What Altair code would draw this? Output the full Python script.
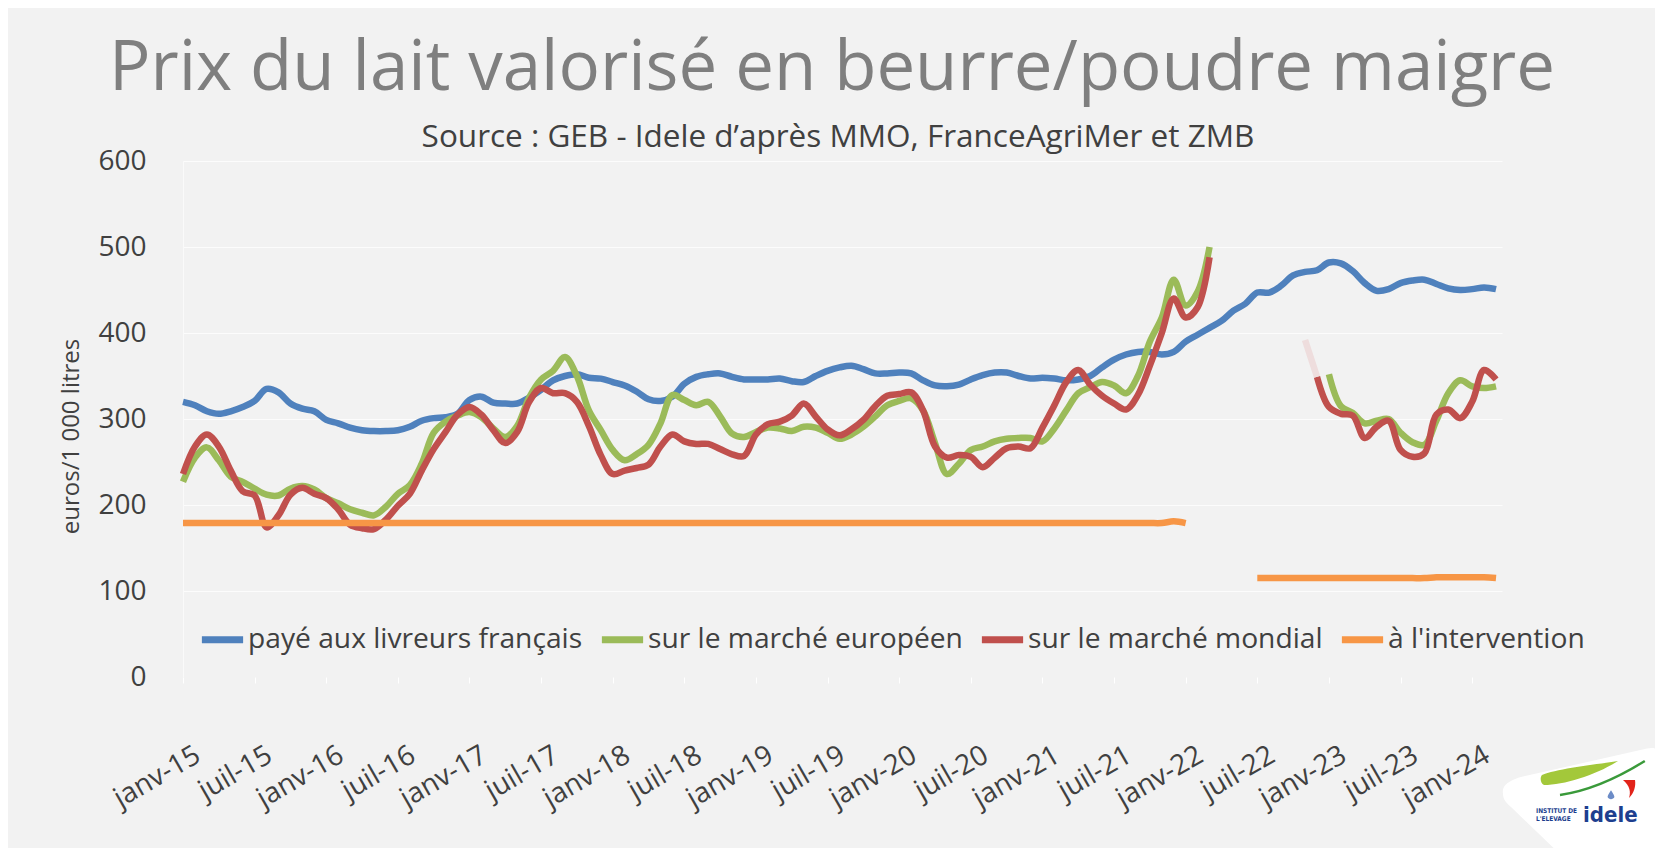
import altair as alt
import pandas as pd

FONT = "Open Sans"

title_text = "Prix du lait valorisé en beurre/poudre maigre"
subtitle_text = "Source : GEB - Idele d’après MMO, FranceAgriMer et ZMB"
y_title = "euros/1 000 litres"

series_names = [
    "payé aux livreurs français",
    "sur le marché européen",
    "sur le marché mondial",
    "\u00a0à l'intervention",
]
series_colors = ["#4F81BD", "#9BBB59", "#C0504D", "#F79646"]

x_labels = ["janv-15", "juil-15", "janv-16", "juil-16", "janv-17", "juil-17",
            "janv-18", "juil-18", "janv-19", "juil-19", "janv-20", "juil-20",
            "janv-21", "juil-21", "janv-22", "juil-22", "janv-23", "juil-23",
            "janv-24"]
x_tick_values = [0, 6, 12, 18, 24, 30, 36, 42, 48, 54, 60, 66, 72, 78, 84, 90, 96, 102, 108]
y_tick_values = [0, 100, 200, 300, 400, 500, 600]

# monthly values, index 0 = janv-15 ... 110 = mars-24
paye_fr = [320, 316, 309, 306, 309, 314, 321, 335, 331, 318,
           312, 309, 299, 295, 290, 287, 286, 286, 287, 291,
           298, 301, 302, 306, 322, 326, 319, 318, 318, 325,
           334, 345, 350, 352, 348, 347, 343, 339, 332, 323,
           321, 326, 341, 349, 352, 353, 349, 346, 346, 346,
           347, 344, 343, 350, 356, 360, 362, 358, 353, 353,
           354, 353, 345, 339, 338, 340, 346, 351, 354, 354,
           350, 347, 348, 347, 345, 346, 350, 360, 369, 375,
           378, 378, 375, 378, 390, 398, 406, 414, 426, 434,
           447, 447, 455, 467, 471, 473, 482, 481, 472, 458,
           449, 451, 458, 461, 462, 457, 452, 450, 451, 453, 451]

marche_eu = [227, 255, 267, 252, 233, 227, 219, 212, 211, 219,
             222, 218, 208, 202, 195, 191, 188, 198, 213, 223,
             248, 284, 297, 304, 308, 302, 289, 279, 292, 325,
             346, 356, 372, 350, 310, 287, 264, 252, 259, 270,
             295, 328, 322, 316, 320, 303, 283, 279, 285, 290,
             289, 286, 291, 290, 284, 277, 282, 291, 303, 316,
             321, 324, 310, 272, 236, 248, 264, 268, 274, 277,
             278, 278, 274, 289, 310, 330, 337, 343, 339, 330,
             350, 390, 418, 462, 432, 448, 500, None, None, None,
             None, None, None, None, None, None, 352, 315, 307, 295,
             298, 300, 284, 273, 270, 298, 330, 345, 338, 336, 338]

marche_monde = [236, 268, 282, 268, 240, 216, 211, 174, 188, 212,
                220, 213, 208, 195, 177, 173, 172, 183, 199, 213,
                240, 265, 285, 305, 314, 305, 287, 272, 285, 320,
                336, 330, 330, 320, 292, 258, 236, 240, 243, 247,
                268, 282, 274, 271, 271, 265, 259, 257, 282, 294,
                297, 304, 318, 303, 288, 281, 288, 299, 315, 327,
                329, 331, 310, 268, 255, 258, 256, 244, 255, 266,
                268, 266, 290, 316, 343, 357, 340, 327, 318, 311,
                328, 362, 400, 440, 418, 430, 488, None, None, None,
                None, None, None, None, None, 349, 314, 306, 304, 278,
                291, 298, 264, 256, 260, 305, 311, 301, 320, 357, 346]

intervention = [179] * 83 + [181, 179] + [None] * 5 + \
    [115, 115, 115, 115, 115, 115, 115, 115, 115, 115,
     115, 115, 115, 115, 115, 116, 116, 116, 116, 116, 115]

# faint (nearly invisible) link drawn before the world-market line restarts
faint_x = [94, 95]
faint_y = [392, 349]

all_series = [paye_fr, marche_eu, marche_monde, intervention]

rows = []
for name, vals in zip(series_names, all_series):
    seg = 0
    gap = True
    for i, v in enumerate(vals):
        if v is None:
            gap = True
            continue
        if gap:
            seg += 1
            gap = False
        rows.append({"mois": i, "valeur": v, "serie": name,
                     "segment": f"{name}-{seg}",
                     "ordre": series_names.index(name)})
df = pd.DataFrame(rows)
faint_df = pd.DataFrame({"mois": faint_x, "valeur": faint_y})

label_expr = "[" + ",".join("'" + l + "'" for l in x_labels) + "][round(datum.value/6)]"

x_enc = alt.X(
    "mois:Q",
    scale=alt.Scale(domain=[0, 110.5], nice=False, zero=False),
    axis=alt.Axis(
        values=x_tick_values, labelExpr=label_expr, title=None,
        grid=False, domain=False, ticks=True, tickSize=6,
        tickColor="#FFFFFF", tickWidth=1,
        labelAngle=-30, labelAlign="right", labelBaseline="top",
        labelFont=FONT, labelFontSize=28, labelColor="#404040",
        labelPadding=58, labelOffset=8, labelOverlap=False,
        labelFlush=False, labelBound=False,
    ),
)

y_enc = alt.Y(
    "valeur:Q",
    scale=alt.Scale(domain=[0, 600], nice=False),
    axis=alt.Axis(
        values=y_tick_values, title=y_title,
        titleFont=FONT, titleFontSize=24, titleColor="#404040",
        titleFontWeight="normal", titleAngle=-90, titleAlign="center",
        titleBaseline="alphabetic", titleX=-105, titleY=275,
        labelFont=FONT, labelFontSize=28, labelColor="#404040",
        labelPadding=37, ticks=False,
        domain=True, domainColor="#FAFAFA", domainWidth=1,
        grid=True, gridColor="#FFFFFF", gridWidth=1,
        gridOpacity={"condition": {"test": "datum.value === 0", "value": 0},
                     "value": 0.75},
    ),
)

lines = alt.Chart(df).mark_line(
    strokeWidth=6.5, interpolate="catmull-rom"
).encode(
    x=x_enc,
    y=y_enc,
    color=alt.Color(
        "serie:N",
        scale=alt.Scale(domain=series_names, range=series_colors),
        legend=alt.Legend(
            title=None, orient="none", legendX=15, legendY=454,
            direction="horizontal", symbolType="stroke",
            symbolSize=1700, symbolStrokeWidth=7,
            labelFont=FONT, labelFontSize=28.2, labelColor="#404040",
            labelLimit=600, labelOffset=1, columnPadding=4, padding=0,
        ),
    ),
    detail="segment:N",
    order="ordre:Q",
)

faint = alt.Chart(faint_df).mark_line(
    strokeWidth=6.5, color="#EEDDDD", interpolate="linear"
).encode(x="mois:Q", y="valeur:Q")

title_layer = alt.Chart(pd.DataFrame({"t": [title_text]})).mark_text(
    font=FONT, fontSize=69, color="#7F7F7F", align="center", baseline="alphabetic"
).encode(text="t:N", x=alt.value(649), y=alt.value(-71))

subtitle_layer = alt.Chart(pd.DataFrame({"t": [subtitle_text]})).mark_text(
    font=FONT, fontSize=31.5, color="#404040", align="center", baseline="alphabetic"
).encode(text="t:N", x=alt.value(655), y=alt.value(-14))

# ---- logo (decorative, bottom right) ----
blob_path = ("M -1 -0.12 C -1.02 -0.22 -0.92 -0.28 -0.8 -0.32 L 0.8 -0.68 "
             "C 0.95 -0.72 1.05 -0.6 1.1 -0.4 L 1.3 1.3 L 0.4 1.3 L -0.9 0.05 "
             "C -0.98 -0.02 -1 -0.06 -1 -0.12 Z")
swoosh_path = ("M -0.95 0.05 C -0.6 -0.1 0.3 -0.2 0.95 -0.3 "
               "C 0.4 0.05 -0.4 0.3 -0.9 0.3 C -1 0.25 -1 0.1 -0.95 0.05 Z")
swoosh_line = "M -1 0.45 C -0.3 0.35 0.4 0.05 1.12 -0.4"
red_path = ("M -0.4 -0.9 L 0.8 -0.9 C 0.9 -0.3 0.7 0.4 0.2 0.9 "
            "C 0.4 0.3 0.3 -0.3 -0.4 -0.9 Z")
drop_path = ("M 0 -1 C 0.5 -0.2 0.8 0.2 0.7 0.5 C 0.5 1 -0.5 1 -0.7 0.5 "
             "C -0.8 0.2 -0.5 -0.2 0 -1 Z")

one = pd.DataFrame({"k": [0]})
logo_bg = alt.Chart(one).mark_point(
    shape=blob_path, filled=True, color="#FFFFFF", opacity=1, size=25600, strokeWidth=0
).encode(x=alt.value(1400), y=alt.value(642))
logo_swoosh = alt.Chart(one).mark_point(
    shape=swoosh_path, filled=True, color="#A3C83A", opacity=1, size=6400, strokeWidth=0
).encode(x=alt.value(1397), y=alt.value(612))
logo_line = alt.Chart(one).mark_point(
    shape=swoosh_line, filled=False, color="#3A9A3A", opacity=1, size=6400, strokeWidth=2.5
).encode(x=alt.value(1417), y=alt.value(616))
logo_red = alt.Chart(one).mark_point(
    shape=red_path, filled=True, color="#E2231A", opacity=1, size=400, strokeWidth=0
).encode(x=alt.value(1444), y=alt.value(628))
logo_drop = alt.Chart(one).mark_point(
    shape=drop_path, filled=True, color="#6C8CC7", opacity=1, size=90, strokeWidth=0
).encode(x=alt.value(1428), y=alt.value(634))
logo_txt = alt.Chart(pd.DataFrame({"t": ["idele"]})).mark_text(
    font="DejaVu Sans Condensed", fontSize=22, fontWeight="bold", color="#1D3F8F",
    align="left", baseline="alphabetic"
).encode(text="t:N", x=alt.value(1400), y=alt.value(661))
logo_small1 = alt.Chart(pd.DataFrame({"t": ["INSTITUT DE"]})).mark_text(
    font="DejaVu Sans Condensed", fontSize=6.5, fontWeight="bold", color="#1D3F8F",
    align="left", baseline="alphabetic"
).encode(text="t:N", x=alt.value(1353), y=alt.value(652))
logo_small2 = alt.Chart(pd.DataFrame({"t": ["L'ELEVAGE"]})).mark_text(
    font="DejaVu Sans Condensed", fontSize=6.5, fontWeight="bold", color="#1D3F8F",
    align="left", baseline="alphabetic"
).encode(text="t:N", x=alt.value(1353), y=alt.value(660))

chart = alt.layer(
    lines, faint, title_layer, subtitle_layer,
    logo_bg, logo_swoosh, logo_line, logo_red, logo_drop,
    logo_txt, logo_small1, logo_small2,
).properties(
    width=1319, height=516,
    padding={"left": 175, "top": 153, "right": 153, "bottom": 171},
    autosize=alt.AutoSizeParams(type="none"),
    background="#F2F2F2",
).configure_view(stroke=None)

chart.save("out.html", embed_options={"renderer": "svg", "actions": False})
